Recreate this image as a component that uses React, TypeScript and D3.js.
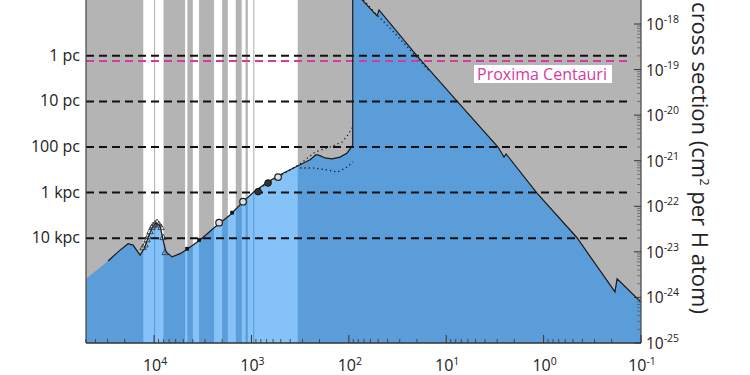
import React from "react";
import * as d3 from "d3";

// ---- data (wavelength in nm, cross section in cm^2 per H atom) ----
const curveWavelength = [50000, 29650, 23440, 18490, 16440, 13930, 12670, 11530, 10490, 9540, 8670, 8085, 7535, 6535, 5410, 4690, 3370, 2420, 1660, 1165, 940, 676, 508, 317, 250, 217, 198, 176, 149, 123, 104, 92.7, 91.2, 91.2, 51.3, 49.0, 19.95, 7.75, 2.94, 2.55, 2.43, 1.17, 0.454, 0.185, 0.176, 0.1];
const curveSigma = [2.57e-24, 6.31e-24, 1.0e-23, 1.51e-23, 1.41e-23, 8.51e-24, 1.17e-23, 2.04e-23, 3.39e-23, 4.37e-23, 3.72e-23, 1.82e-23, 1.0e-23, 7.76e-24, 9.12e-24, 1.1e-23, 1.82e-23, 3.39e-23, 6.46e-23, 1.38e-22, 2.09e-22, 3.47e-22, 4.9e-22, 8.13e-22, 1.05e-21, 1.35e-21, 1.29e-21, 1.15e-21, 1.1e-21, 1.2e-21, 1.48e-21, 2.09e-21, 2.2e-21, 5.62e-18, 1.51e-18, 2.04e-18, 2.0e-19, 2.04e-20, 2.0e-21, 1.2e-21, 1.41e-21, 1.95e-22, 2.04e-23, 1.32e-24, 2.57e-24, 7.94e-25];

const dottedUpperWavelength = [897, 644, 452, 317, 222, 156, 117, 102, 92.7];
const dottedUpperSigma = [2.19e-22, 3.47e-22, 5.37e-22, 8.51e-22, 1.55e-21, 2.0e-21, 2.57e-21, 3.72e-21, 5.25e-21];
const dottedLowerWavelength = [317, 233, 167, 132, 104, 90.6];
const dottedLowerSigma = [6.92e-22, 6.92e-22, 6.31e-22, 5.62e-22, 7.24e-22, 9.33e-22];
const dottedTopWavelength = [86.3, 53.8, 37.8, 23.5, 14.7];
const dottedTopSigma = [5.62e-18, 1.74e-18, 8.13e-19, 2.69e-19, 8.91e-20];

const triangleWavelength = [12970, 12370, 11800, 11530, 11000, 10490, 10240, 9770, 9320, 8890, 8480, 8085, 7710];
const triangleSigma = [1.23e-23, 1.41e-23, 1.82e-23, 2.14e-23, 2.75e-23, 3.39e-23, 3.72e-23, 4.07e-23, 4.37e-23, 3.89e-23, 3.39e-23, 2.04e-23, 9.55e-24];
const squareWavelength = [4580, 3450, 1580];
const squareSigma = [1.17e-23, 1.82e-23, 7.24e-23];
const openCircleWavelength = [2150, 1220, 533];
const openCircleSigma = [4.37e-23, 1.26e-22, 4.37e-22];
const filledCircleWavelength = [855, 676];
const filledCircleSigma = [2.09e-22, 3.24e-22];

// atmospheric windows [short, long] in nm
const windowLow = [10000, 8000, 4550, 3450, 2000, 1450, 1150, 960, 335];
const windowHigh = [12900, 9750, 4800, 4000, 2420, 1750, 1260, 1090, 935];

const distanceLabels = ["1 pc", "10 pc", "100 pc", "1 kpc", "10 kpc"];
const distancePc = [1, 10, 100, 1000, 10000];
const sigmaAt1pc = 2.0e-19;
const proximaPc = 1.3;

const xTickExponents = [4, 3, 2, 1, 0, -1];
const yTickExponents = [-25, -24, -23, -22, -21, -20, -19, -18];

const FONT = "'Open Sans', 'Noto Sans', sans-serif";
const GRAY = "#b4b4b4";
const DARK_BLUE = "#5b9dd9";
const LIGHT_BLUE = "#84c2f8";
const MAGENTA = "#d63aa0";

export default function App() {
  const left = 86, right = 641, bottom = 343;
  const x = d3.scaleLog().domain([5e4, 0.1]).range([left, right]);
  const y = d3.scaleLog().domain([1e-25, 1e-18]).range([bottom, 24]);

  const pts = curveWavelength.map((w, i) => [w, curveSigma[i]] as [number, number]);
  const area = d3.area<[number, number]>().x(d => x(d[0])).y0(bottom).y1(d => y(d[1]))(pts) || "";
  const line = d3.line<[number, number]>().x(d => x(d[0])).y(d => y(d[1]));
  const solid = line(pts.slice(1)) || "";
  const mk = (ws: number[], ss: number[]) => line(ws.map((w, i) => [w, ss[i]] as [number, number])) || "";

  const tri = d3.symbol().type(d3.symbolTriangle).size(18)() || "";
  const sq = d3.symbol().type(d3.symbolSquare).size(14)() || "";

  const minorX: number[] = [];
  for (let e = -1; e <= 4; e++) for (let k = 2; k <= 9; k++) { const v = k * Math.pow(10, e); if (v <= 5e4 && v >= 0.1) minorX.push(v); }
  const minorY: number[] = [];
  for (let e = -25; e < -18; e++) for (let k = 2; k <= 9; k++) minorY.push(k * Math.pow(10, e));

  return (
    <svg width={750} height={375} style={{ position: "absolute", left: 0, top: 0, background: "#fff" }} fontFamily={FONT}>
      <defs>
        <clipPath id="plotClip"><rect x={left} y={0} width={right - left} height={bottom} /></clipPath>
        <clipPath id="areaClip"><path d={area} /></clipPath>
      </defs>
      <g clipPath="url(#plotClip)">
        <rect x={left} y={0} width={right - left} height={bottom} fill={GRAY} />
        {windowLow.map((lo, i) => (
          <rect key={"w" + i} x={x(windowHigh[i])} y={0} width={x(lo) - x(windowHigh[i])} height={bottom} fill="#fff" />
        ))}
        <path d={area} fill={DARK_BLUE} />
        <g clipPath="url(#areaClip)">
          {windowLow.map((lo, i) => (
            <rect key={"b" + i} x={x(windowHigh[i])} y={0} width={x(lo) - x(windowHigh[i])} height={bottom} fill={LIGHT_BLUE} />
          ))}
        </g>
        {distancePc.map((d, i) => (
          <line key={"d" + i} x1={left} x2={628} y1={y(sigmaAt1pc / d)} y2={y(sigmaAt1pc / d)} stroke="#111" strokeWidth={2} strokeDasharray="8 5" />
        ))}
        <line x1={left} x2={628} y1={y(sigmaAt1pc / proximaPc)} y2={y(sigmaAt1pc / proximaPc)} stroke={MAGENTA} strokeWidth={2} strokeDasharray="8 5" />
        <path d={mk(dottedUpperWavelength, dottedUpperSigma)} fill="none" stroke="#222" strokeWidth={1.3} strokeDasharray="1.3 3" />
        <path d={mk(dottedLowerWavelength, dottedLowerSigma)} fill="none" stroke="#222" strokeWidth={1.3} strokeDasharray="1.3 3" />
        <path d={mk(dottedTopWavelength, dottedTopSigma)} fill="none" stroke="#222" strokeWidth={1.3} strokeDasharray="1.3 3" />
        <path d={solid} fill="none" stroke="#1a1a1a" strokeWidth={1.2} />
        {triangleWavelength.map((w, i) => (
          <path key={"t" + i} d={tri} transform={`translate(${x(w)},${y(triangleSigma[i])})`} fill="none" stroke="#333" strokeWidth={0.8} />
        ))}
        {squareWavelength.map((w, i) => (
          <path key={"s" + i} d={sq} transform={`translate(${x(w)},${y(squareSigma[i])})`} fill="#111" />
        ))}
        {openCircleWavelength.map((w, i) => (
          <circle key={"c" + i} cx={x(w)} cy={y(openCircleSigma[i])} r={3.3} fill="#e0e0e0" stroke="#222" strokeWidth={1.2} />
        ))}
        {filledCircleWavelength.map((w, i) => (
          <circle key={"f" + i} cx={x(w)} cy={y(filledCircleSigma[i])} r={3.3} fill="#333" stroke="#111" strokeWidth={1} />
        ))}
      </g>
      {/* axes */}
      <line x1={left} x2={left} y1={0} y2={bottom} stroke="#444" strokeWidth={1.2} />
      <line x1={right} x2={right} y1={0} y2={bottom} stroke="#444" strokeWidth={1.2} />
      <line x1={left} x2={right} y1={bottom} y2={bottom} stroke="#333" strokeWidth={1.5} />
      {xTickExponents.map(e => (
        <line key={"xt" + e} x1={x(Math.pow(10, e))} x2={x(Math.pow(10, e))} y1={bottom} y2={bottom - 8} stroke="#333" strokeWidth={1} />
      ))}
      {minorX.map((v, i) => (
        <line key={"xm" + i} x1={x(v)} x2={x(v)} y1={bottom} y2={bottom - 4} stroke="#333" strokeWidth={0.8} />
      ))}
      {yTickExponents.map(e => (
        <line key={"yt" + e} x1={right} x2={right - 7} y1={y(Math.pow(10, e))} y2={y(Math.pow(10, e))} stroke="#333" strokeWidth={1} />
      ))}
      {minorY.map((v, i) => (
        <line key={"ym" + i} x1={right} x2={right - 4} y1={y(v)} y2={y(v)} stroke="#555" strokeWidth={0.7} />
      ))}
      {xTickExponents.map(e => (
        <text key={"xl" + e} x={x(Math.pow(10, e)) + 1} y={371} textAnchor="middle" fontSize={16} fill="#222">
          10<tspan dy={-6} fontSize={10.5}>{e}</tspan>
        </text>
      ))}
      {yTickExponents.map(e => (
        <text key={"yl" + e} x={646} y={y(Math.pow(10, e)) + 6} fontSize={15.5} fill="#222">
          10<tspan dy={-7} fontSize={10.5}>{e}</tspan>
        </text>
      ))}
      {distancePc.map((d, i) => (
        <text key={"dl" + i} x={80} y={y(sigmaAt1pc / d) + 5} textAnchor="end" fontSize={16} fill="#222">{distanceLabels[i]}</text>
      ))}
      <rect x={474} y={65} width={138} height={18} fill="#fff" />
      <text x={477} y={79.5} fontSize={16} fill={MAGENTA}>Proxima Centauri</text>
      <text transform="translate(692,158) rotate(90)" textAnchor="middle" fontSize={22} fill="#222">
        cross section (cm<tspan dy={-8} fontSize={13}>2</tspan><tspan dy={8}> per H atom)</tspan>
      </text>
    </svg>
  );
}
